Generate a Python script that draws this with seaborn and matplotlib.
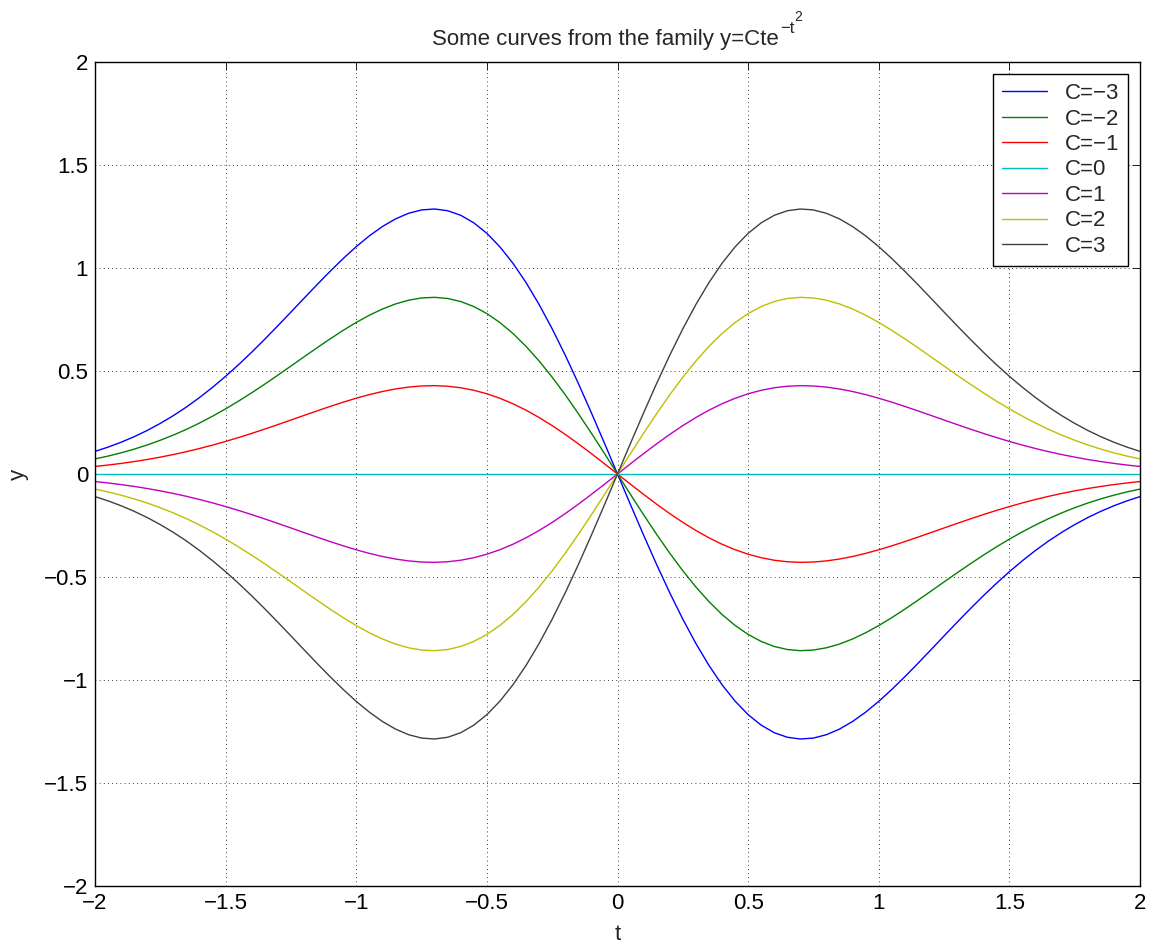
import numpy as np
import pandas as pd
import matplotlib
matplotlib.use("Agg")
import matplotlib.pyplot as plt
import seaborn as sns

# ---- data ----
t_values = [round(-2.0 + 0.05 * i, 2) for i in range(81)]
# y for C=1 curve, t = 0.00 .. 2.00 in steps of 0.05 (odd curve, mirrored for t<0)
c1_positive = [0.0, 0.0499, 0.0990, 0.1467, 0.1922, 0.2349, 0.2742, 0.3097,
               0.3409, 0.3675, 0.3894, 0.4064, 0.4186, 0.4260, 0.4288, 0.4273,
               0.4218, 0.4127, 0.4004, 0.3853, 0.3679, 0.3486, 0.3280, 0.3064,
               0.2843, 0.2620, 0.2399, 0.2182, 0.1972, 0.1771, 0.1581, 0.1403,
               0.1237, 0.1084, 0.0945, 0.0819, 0.0705, 0.0604, 0.0514, 0.0435,
               0.0366]
c_values = [-3, -2, -1, 0, 1, 2, 3]
legend_labels = ["C=\u22123", "C=\u22122", "C=\u22121", "C=0", "C=1", "C=2", "C=3"]
line_colors = ["#0000ff", "#008000", "#ff0000", "#00bfbf", "#bf00bf", "#bfbf00", "#404040"]
x_ticks = [-2, -1.5, -1, -0.5, 0, 0.5, 1, 1.5, 2]
y_ticks = [-2, -1.5, -1, -0.5, 0, 0.5, 1, 1.5, 2]
title_main = "Some curves from the family y=Cte"
title_sup1 = "\u2212t"
title_sup2 = "2"

c1_curve = [-v for v in c1_positive[:0:-1]] + c1_positive

rows = []
for c, lab in zip(c_values, legend_labels):
    for t, v in zip(t_values, c1_curve):
        rows.append({"t": t, "y": c * v, "C": lab})
df = pd.DataFrame(rows)

FS = 16
W, H = 1157, 950
sns.set_style("white")
plt.rcParams["font.family"] = ["Liberation Sans", "DejaVu Sans"]
plt.rcParams["font.size"] = FS

fig = plt.figure(figsize=(W / 100, H / 100), dpi=100)
ax = fig.add_axes([95 / W, 64 / H, (1140 - 95) / W, (886 - 62) / H])

sns.lineplot(data=df, x="t", y="y", hue="C", hue_order=legend_labels,
             palette=line_colors, linewidth=1.0, ax=ax, sort=False,
             estimator=None, legend=True)

ax.set_xlim(-2, 2)
ax.set_ylim(-2, 2)
ax.set_xticks(x_ticks)
ax.set_yticks(y_ticks)
fmt = lambda v: ("\u2212" if v < 0 else "") + ("%g" % abs(v))
ax.set_xticklabels([fmt(v) for v in x_ticks])
ax.set_yticklabels([fmt(v) for v in y_ticks])
ax.tick_params(direction="in", length=6, width=0.6, top=True, right=True,
               labelsize=FS, colors="black", pad=5)
ax.grid(True, linestyle=(0, (1, 4)), color="black", linewidth=0.6)
for s in ax.spines.values():
    s.set_visible(True)
    s.set_color("black")
    s.set_linewidth(1.0)

ax.set_xlabel("t", fontsize=FS, labelpad=7)
ax.set_ylabel("y", fontsize=FS, labelpad=11)

leg = ax.legend(loc="upper right", fontsize=FS, frameon=True, fancybox=False,
                edgecolor="black", borderaxespad=0.55, handlelength=2.0,
                labelspacing=0.2, borderpad=0.4, handletextpad=0.8)
leg.get_frame().set_linewidth(1.0)
leg.get_frame().set_alpha(1)

# ---- title with raised exponent, built from separate text pieces ----
renderer = fig.canvas.get_renderer()
base_y = 1 - 45 / H
t1 = fig.text(0, base_y, title_main, fontsize=FS, va="baseline", ha="left")
t2 = fig.text(0, 1 - 33 / H, title_sup1, fontsize=12, va="baseline", ha="left")
t3 = fig.text(0, 1 - 21 / H, title_sup2, fontsize=10, va="baseline", ha="left")
w1 = t1.get_window_extent(renderer).width
w2 = t2.get_window_extent(renderer).width
w3 = t3.get_window_extent(renderer).width
total = w1 + 1 + w2 + 0 + w3
x0 = 617.5 - total / 2
t1.set_x(x0 / W)
t2.set_x((x0 + w1 + 1) / W)
t3.set_x((x0 + w1 + 1 + w2) / W)

fig.savefig("out.png", dpi=100, facecolor="white")
